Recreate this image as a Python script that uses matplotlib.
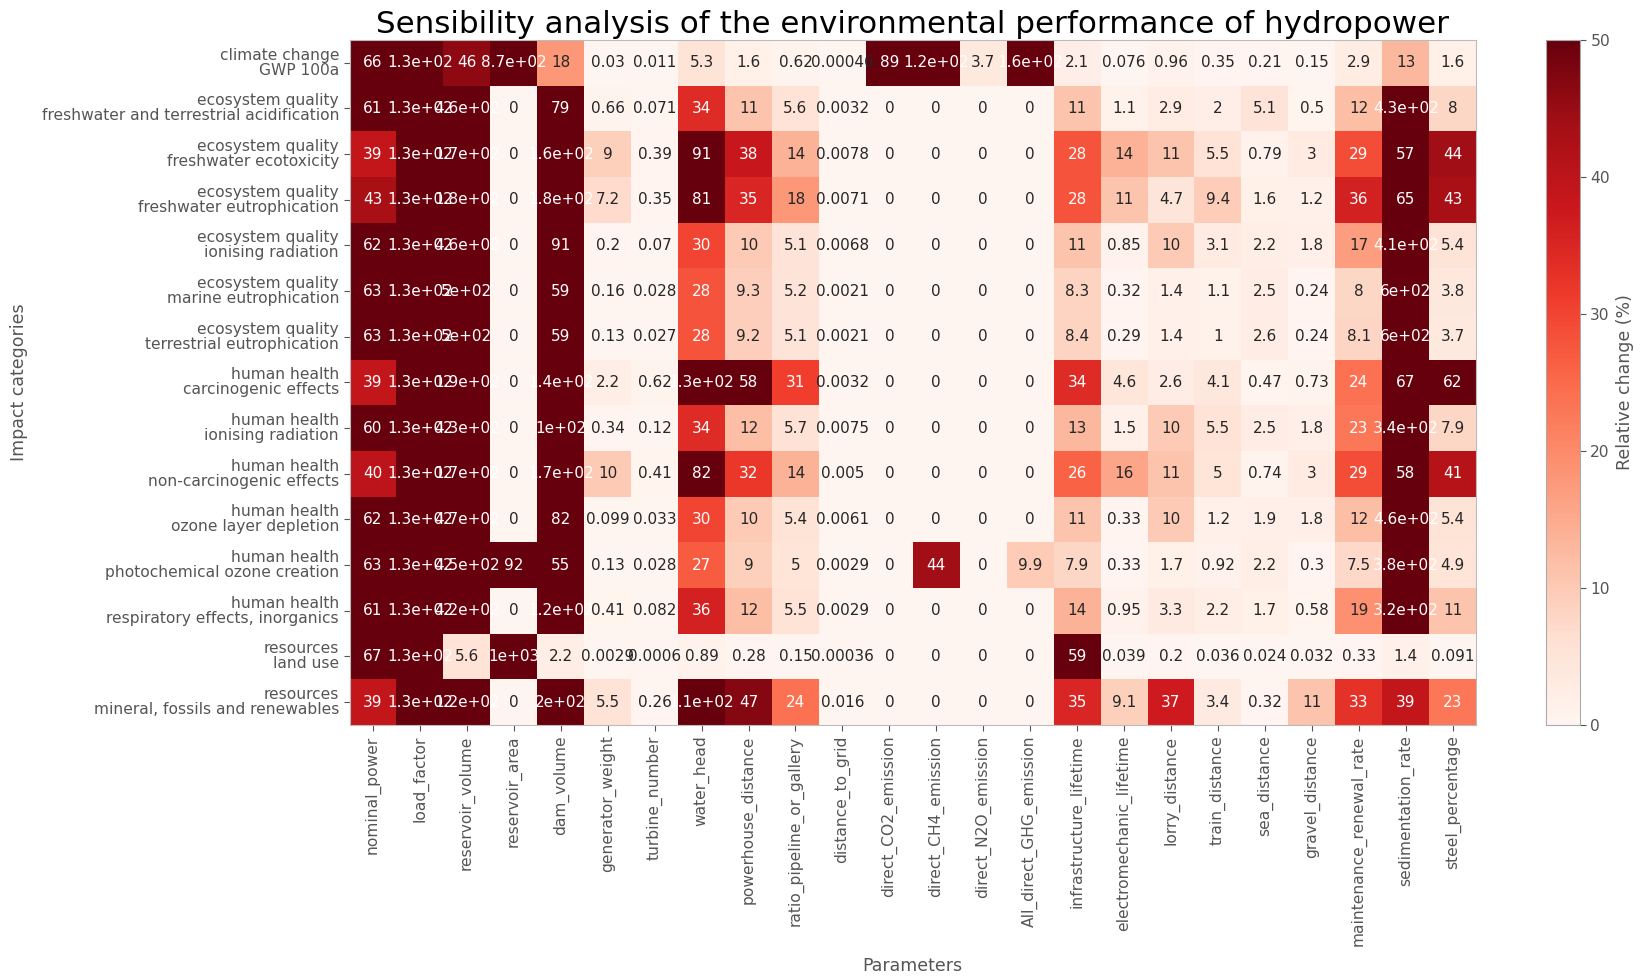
import numpy as np
import pandas as pd
import matplotlib
matplotlib.use("Agg")
import matplotlib.pyplot as plt
import seaborn as sns

#######################
annot_size = 11
tick_size = 11.2
label_size = 12.5
title_size = 22.3
grey = '#555555'
########################

parameters = ['nominal_power', 'load_factor', 'reservoir_volume', 'reservoir_area',
              'dam_volume', 'generator_weight', 'turbine_number', 'water_head',
              'powerhouse_distance', 'ratio_pipeline_or_gallery', 'distance_to_grid',
              'direct_CO2_emission', 'direct_CH4_emission', 'direct_N2O_emission',
              'All_direct_GHG_emission', 'infrastructure_lifetime',
              'electromechanic_lifetime', 'lorry_distance', 'train_distance',
              'sea_distance', 'gravel_distance', 'maintenance_renewal_rate',
              'sedimentation_rate', 'steel_percentage']

categories = ['climate change\nGWP 100a',
              'ecosystem quality\nfreshwater and terrestrial acidification',
              'ecosystem quality\nfreshwater ecotoxicity',
              'ecosystem quality\nfreshwater eutrophication',
              'ecosystem quality\nionising radiation',
              'ecosystem quality\nmarine eutrophication',
              'ecosystem quality\nterrestrial eutrophication',
              'human health\ncarcinogenic effects',
              'human health\nionising radiation',
              'human health\nnon-carcinogenic effects',
              'human health\nozone layer depletion',
              'human health\nphotochemical ozone creation',
              'human health\nrespiratory effects, inorganics',
              'resources\nland use',
              'resources\nmineral, fossils and renewables']

gwp = [66, 130, 46, 870, 18, 0.03, 0.011, 5.3, 1.6, 0.62, 0.00046, 89, 120, 3.7, 160,
       2.1, 0.076, 0.96, 0.35, 0.21, 0.15, 2.9, 13, 1.6]
eq_acid = [61, 130, 460, 0, 79, 0.66, 0.071, 34, 11, 5.6, 0.0032, 0, 0, 0, 0,
           11, 1.1, 2.9, 2, 5.1, 0.5, 12, 430, 8]
eq_ecotox = [39, 130, 170, 0, 160, 9, 0.39, 91, 38, 14, 0.0078, 0, 0, 0, 0,
             28, 14, 11, 5.5, 0.79, 3, 29, 57, 44]
eq_eutro = [43, 130, 180, 0, 180, 7.2, 0.35, 81, 35, 18, 0.0071, 0, 0, 0, 0,
            28, 11, 4.7, 9.4, 1.6, 1.2, 36, 65, 43]
eq_ionis = [62, 130, 460, 0, 91, 0.2, 0.07, 30, 10, 5.1, 0.0068, 0, 0, 0, 0,
            11, 0.85, 10, 3.1, 2.2, 1.8, 17, 410, 5.4]
eq_marine = [63, 130, 500, 0, 59, 0.16, 0.028, 28, 9.3, 5.2, 0.0021, 0, 0, 0, 0,
             8.3, 0.32, 1.4, 1.1, 2.5, 0.24, 8, 600, 3.8]
eq_terr = [63, 130, 500, 0, 59, 0.13, 0.027, 28, 9.2, 5.1, 0.0021, 0, 0, 0, 0,
           8.4, 0.29, 1.4, 1, 2.6, 0.24, 8.1, 600, 3.7]
hh_carc = [39, 130, 190, 0, 140, 2.2, 0.62, 130, 58, 31, 0.0032, 0, 0, 0, 0,
           34, 4.6, 2.6, 4.1, 0.47, 0.73, 24, 67, 62]
hh_ionis = [60, 130, 430, 0, 100, 0.34, 0.12, 34, 12, 5.7, 0.0075, 0, 0, 0, 0,
            13, 1.5, 10, 5.5, 2.5, 1.8, 23, 340, 7.9]
hh_noncarc = [40, 130, 170, 0, 170, 10, 0.41, 82, 32, 14, 0.005, 0, 0, 0, 0,
              26, 16, 11, 5, 0.74, 3, 29, 58, 41]
hh_ozone = [62, 130, 470, 0, 82, 0.099, 0.033, 30, 10, 5.4, 0.0061, 0, 0, 0, 0,
            11, 0.33, 10, 1.2, 1.9, 1.8, 12, 460, 5.4]
hh_photo = [63, 130, 450, 92, 55, 0.13, 0.028, 27, 9, 5, 0.0029, 0, 44, 0, 9.9,
            7.9, 0.33, 1.7, 0.92, 2.2, 0.3, 7.5, 380, 4.9]
hh_resp = [61, 130, 420, 0, 120, 0.41, 0.082, 36, 12, 5.5, 0.0029, 0, 0, 0, 0,
           14, 0.95, 3.3, 2.2, 1.7, 0.58, 19, 320, 11]
res_land = [67, 130, 5.6, 1000, 2.2, 0.0029, 0.0006, 0.89, 0.28, 0.15, 0.00036, 0, 0, 0, 0,
            59, 0.039, 0.2, 0.036, 0.024, 0.032, 0.33, 1.4, 0.091]
res_mineral = [39, 130, 120, 0, 200, 5.5, 0.26, 110, 47, 24, 0.016, 0, 0, 0, 0,
               35, 9.1, 37, 3.4, 0.32, 11, 33, 39, 23]

rows = [gwp, eq_acid, eq_ecotox, eq_eutro, eq_ionis, eq_marine, eq_terr, hh_carc,
        hh_ionis, hh_noncarc, hh_ozone, hh_photo, hh_resp, res_land, res_mineral]
df = pd.DataFrame(rows, index=categories, columns=parameters)

fig = plt.figure(figsize=(16.41, 9.76), dpi=100)
ax = fig.add_axes([0.2130, 0.2572, 0.6865, 0.7019])
cax = fig.add_axes([0.9421, 0.2572, 0.0207, 0.7019])

sns.heatmap(df, ax=ax, cbar_ax=cax, cmap='Reds', vmin=0, vmax=50,
            annot=True, fmt='.2g', annot_kws={'size': annot_size},
            cbar_kws={'label': 'Relative change (%)'})

ax.set_title('Sensibility analysis of the environmental performance of hydropower',
             fontsize=title_size, color='black', pad=5)
ax.set_xlabel('Parameters', fontsize=label_size, color=grey, labelpad=8)
ax.set_ylabel('Impact categories', fontsize=label_size, color=grey, labelpad=10)
ax.set_xticklabels(parameters, rotation=90)
ax.set_yticklabels(categories, rotation=0, linespacing=1.0)
ax.tick_params(axis='both', labelsize=tick_size, colors=grey, length=4)
for spine in ax.spines.values():
    spine.set_visible(True)
    spine.set_color('#bbbbbb')
    spine.set_linewidth(0.8)

cax.tick_params(labelsize=tick_size, colors=grey, length=4)
cax.yaxis.label.set_color(grey)
cax.yaxis.label.set_size(label_size)
cbar = ax.collections[0].colorbar
cbar.outline.set_edgecolor('#aaaaaa')
cbar.outline.set_linewidth(0.8)

plt.savefig('out.png', dpi=100)
